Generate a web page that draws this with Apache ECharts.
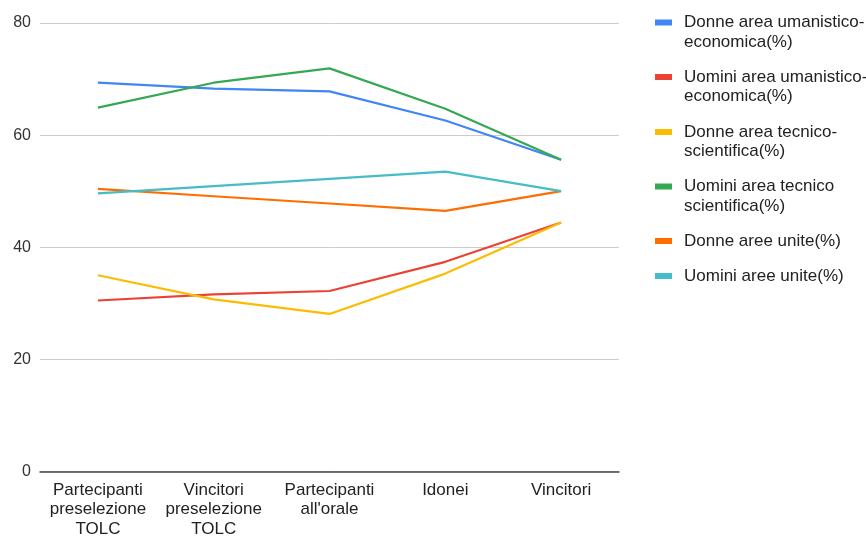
<!DOCTYPE html>
<html>
<head>
<meta charset="utf-8">
<script src="https://cdn.jsdelivr.net/npm/echarts@6/dist/echarts.min.js"></script>
<style>
  html, body { margin: 0; padding: 0; background: #fff; overflow: hidden; }
  #chart { width: 866px; height: 539px; }
</style>
</head>
<body>
<div id="chart"></div>
<script>
// Categories along the x axis (multi-line labels)
const categories = [
  'Partecipanti\npreselezione\nTOLC',
  'Vincitori\npreselezione\nTOLC',
  'Partecipanti\nall\'orale',
  'Idonei',
  'Vincitori'
];

// Series names as shown in the legend
const seriesNames = [
  'Donne area umanistico-\neconomica(%)',
  'Uomini area umanistico-\neconomica(%)',
  'Donne area tecnico-\nscientifica(%)',
  'Uomini area tecnico\nscientifica(%)',
  'Donne aree unite(%)',
  'Uomini aree unite(%)'
];

// Percentages per stage
const donneUmanistico = [69.35, 68.3, 67.8, 62.6, 55.6];
const uominiUmanistico = [30.5, 31.6, 32.2, 37.4, 44.4];
const donneTecnico = [35.0, 30.7, 28.1, 35.3, 44.4];
const uominiTecnico = [64.9, 69.35, 71.9, 64.7, 55.6];
const donneUnite = [50.4, 49.1, 47.8, 46.5, 50.0];
const uominiUnite = [49.6, 50.9, 52.2, 53.5, 50.0];

// Y axis ticks
const yMin = 0, yMax = 80, yStep = 20;

const seriesData = [donneUmanistico, uominiUmanistico, donneTecnico, uominiTecnico, donneUnite, uominiUnite];
const colors = ['#4285F4', '#EA4335', '#FBBC04', '#34A853', '#FF6D01', '#46BDC6'];

const FONT = '"Liberation Sans", Arial, sans-serif';
const LINE_H = 19.5;

// One legend block per entry; two-line entries use a taller icon box whose
// coloured bar sits at the top, so the bar lines up with the first text line
const ICON_W = 17, ICON_H = 6;
const tallH = ICON_H + LINE_H;
const tallIcon = 'path://M0,0 L' + ICON_W + ',0 L' + ICON_W + ',' + ICON_H + ' L0,' + ICON_H +
  ' Z M0,' + tallH + ' L' + ICON_W + ',' + tallH + ' Z';
const legendCenters = [22.5, 77, 132, 186.5, 241, 276];
const legends = seriesNames.map((name, i) => {
  const twoLines = name.indexOf('\n') >= 0;
  return {
    data: [name],
    left: 655,
    top: legendCenters[i] - LINE_H / 2,
    itemWidth: ICON_W,
    itemHeight: twoLines ? tallH : ICON_H,
    icon: twoLines ? tallIcon : 'rect',
    padding: 0,
    itemGap: 0,
    selectedMode: false,
    textStyle: {
      fontFamily: FONT,
      fontSize: 17,
      color: '#222',
      lineHeight: LINE_H,
      padding: [0, 0, 0, 7]
    }
  };
});

const chart = echarts.init(document.getElementById('chart'), null, { renderer: 'canvas', width: 866, height: 539 });
chart.setOption({
  animation: false,
  color: colors,
  legend: legends,
  grid: { left: 40, top: 23, width: 579, height: 453, containLabel: false },
  xAxis: {
    type: 'category',
    data: categories,
    boundaryGap: true,
    axisLine: { show: true, lineStyle: { color: '#444', width: 1.5 } },
    axisTick: { show: false },
    axisLabel: {
      fontFamily: FONT,
      fontSize: 17,
      color: '#222',
      lineHeight: 19.5,
      margin: 9,
      interval: 0
    }
  },
  yAxis: {
    type: 'value',
    min: yMin,
    max: yMax,
    interval: yStep,
    axisLine: { show: false },
    axisTick: { show: false },
    splitLine: { lineStyle: { color: '#cccccc', width: 1 } },
    axisLabel: {
      fontFamily: FONT,
      fontSize: 16,
      color: '#333',
      margin: 9
    }
  },
  series: seriesNames.map((name, i) => ({
    name: name,
    type: 'line',
    data: seriesData[i],
    symbol: 'none',
    smooth: false,
    lineStyle: { width: 2.2, color: colors[i] },
    itemStyle: { color: colors[i] },
    emphasis: { disabled: true }
  }))
});
</script>
</body>
</html>
